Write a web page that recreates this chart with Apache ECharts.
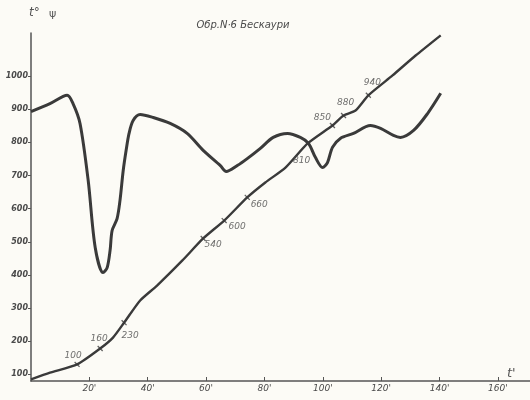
<!DOCTYPE html>
<html>
<head>
<meta charset="utf-8">
<script src="https://cdn.jsdelivr.net/npm/echarts@6/dist/echarts.min.js"></script>
<style>
html,body{margin:0;padding:0;background:#fcfbf6;}
#chart{width:530px;height:400px;}
</style>
</head>
<body>
<div id="chart"></div>
<script>
// ---- data ----
const titleText = 'Обр.N·6 Бескаури';
const timeTicks = [20, 40, 60, 80, 100, 120, 140, 160];
const tempTicks = [100, 200, 300, 400, 500, 600, 700, 800, 900, 1000];

// heating (temperature) curve
const heatTime = [0, 6.5, 15.8, 23.7, 28.1, 31.9, 37.4, 43.2, 51.8, 59.0, 66.2, 74.1, 80.3, 87.2, 94.8, 103.3, 107.1, 111.2, 115.6, 123.9, 131.8, 140.4];
const heatTemp = [85, 105, 130, 178, 211, 256, 323, 368, 443, 510, 564, 634, 679, 724, 797, 851, 881, 896, 942, 1002, 1062, 1123];
// marked temperatures on heating curve (index into heat arrays, text)
const markIndex = [2, 3, 5, 9, 10, 11, 14, 15, 16, 18];
const markText = ['100', '160', '230', '540', '600', '660', '810', '850', '880', '940'];

// differential curve
const diffTime = [0, 6.5, 12.4, 14.4, 16.8, 19.6, 22.0, 24.7, 26.1, 27.1, 27.8, 29.5, 30.5, 31.6, 32.6, 33.6, 35.0, 37.4, 41.9, 47.7, 53.5, 59.0, 64.9, 66.9, 70.7, 74.1, 78.6, 83.0, 87.9, 92.3, 95.1, 97.5, 99.9, 101.6, 103.3, 106.0, 110.5, 116.3, 119.8, 124.2, 126.6, 131.1, 135.9, 140.4];
const diffVal = [893, 917, 942, 917, 857, 685, 483, 407, 422, 474, 534, 570, 625, 715, 776, 827, 866, 884, 875, 857, 827, 776, 730, 712, 730, 751, 782, 815, 827, 815, 797, 754, 724, 739, 785, 812, 827, 851, 842, 821, 815, 836, 887, 948];

// ---- build ----
const labelOffsets = {
  '100': [-4, -9], '160': [-1, -10], '230': [6, 13], '540': [10, 6], '600': [13, 6],
  '660': [12, 7], '810': [-6, 17], '850': [-10, -8], '880': [2, -13], '940': [4, -13]
};
const heatData = heatTime.map((t, i) => [t, heatTemp[i]]);
const diffData = diffTime.map((t, i) => [t, diffVal[i]]);
const markData = markIndex.map((idx, k) => ({
  value: [heatTime[idx], heatTemp[idx]],
  label: { show: true, formatter: markText[k], position: 'inside', offset: labelOffsets[markText[k]] }
}));

const ink = '#3a3a3a';
const txt = { fontFamily: 'DejaVu Sans', fontStyle: 'italic', color: '#4a4a4a' };

const chart = echarts.init(document.getElementById('chart'));
chart.setOption({
  backgroundColor: '#fcfbf6',
  animation: false,
  title: {
    text: titleText, left: 238, top: 15, textAlign: 'center',
    textStyle: Object.assign({}, txt, { fontSize: 10, fontWeight: 'normal' })
  },
  grid: { left: 31, right: 0, top: 33, bottom: 19, outerBoundsMode: 'none' },
  graphic: [
    { type: 'text', left: 29, top: 7, style: { text: 't°', fontSize: 12, fontFamily: 'DejaVu Sans', fontStyle: 'italic', fill: '#555' } },
    { type: 'text', left: 49, top: 9, style: { text: 'ψ', fontSize: 11, fontFamily: 'DejaVu Sans', fill: '#555' } },
    { type: 'text', left: 507, top: 367, style: { text: "t'", fontSize: 13, fontFamily: 'DejaVu Sans', fontStyle: 'italic', fill: '#555' } }
  ],
  xAxis: {
    type: 'value', min: 0, max: 171,
    axisLine: { show: true, lineStyle: { color: '#555', width: 1.5 } },
    axisTick: { show: true, inside: true, length: 4, customValues: timeTicks, lineStyle: { color: '#555' } },
    axisLabel: Object.assign({ customValues: timeTicks, formatter: v => v + "'", fontSize: 9, margin: 3 }, txt),
    splitLine: { show: false }
  },
  yAxis: {
    type: 'value', min: 80, max: 1130,
    axisLine: { show: true, lineStyle: { color: '#555', width: 1.5 } },
    axisTick: { show: true, length: 3, customValues: tempTicks, lineStyle: { color: '#555' } },
    axisLabel: Object.assign({ customValues: tempTicks, formatter: v => String(v), fontSize: 8, fontWeight: 'bold', margin: 3 }, txt),
    splitLine: { show: false }
  },
  series: [
    {
      type: 'line', data: diffData, smooth: 0.3, showSymbol: false,
      lineStyle: { color: ink, width: 3 }, z: 3
    },
    {
      type: 'line', data: heatData, smooth: 0.2, showSymbol: false,
      lineStyle: { color: ink, width: 2.4 }, z: 3
    },
    {
      type: 'scatter', data: markData, symbol: 'rect', symbolSize: [1.3, 7], symbolRotate: 45,
      itemStyle: { color: ink },
      label: Object.assign({ fontSize: 9 }, txt), z: 4
    }
  ]
});
</script>
</body>
</html>
